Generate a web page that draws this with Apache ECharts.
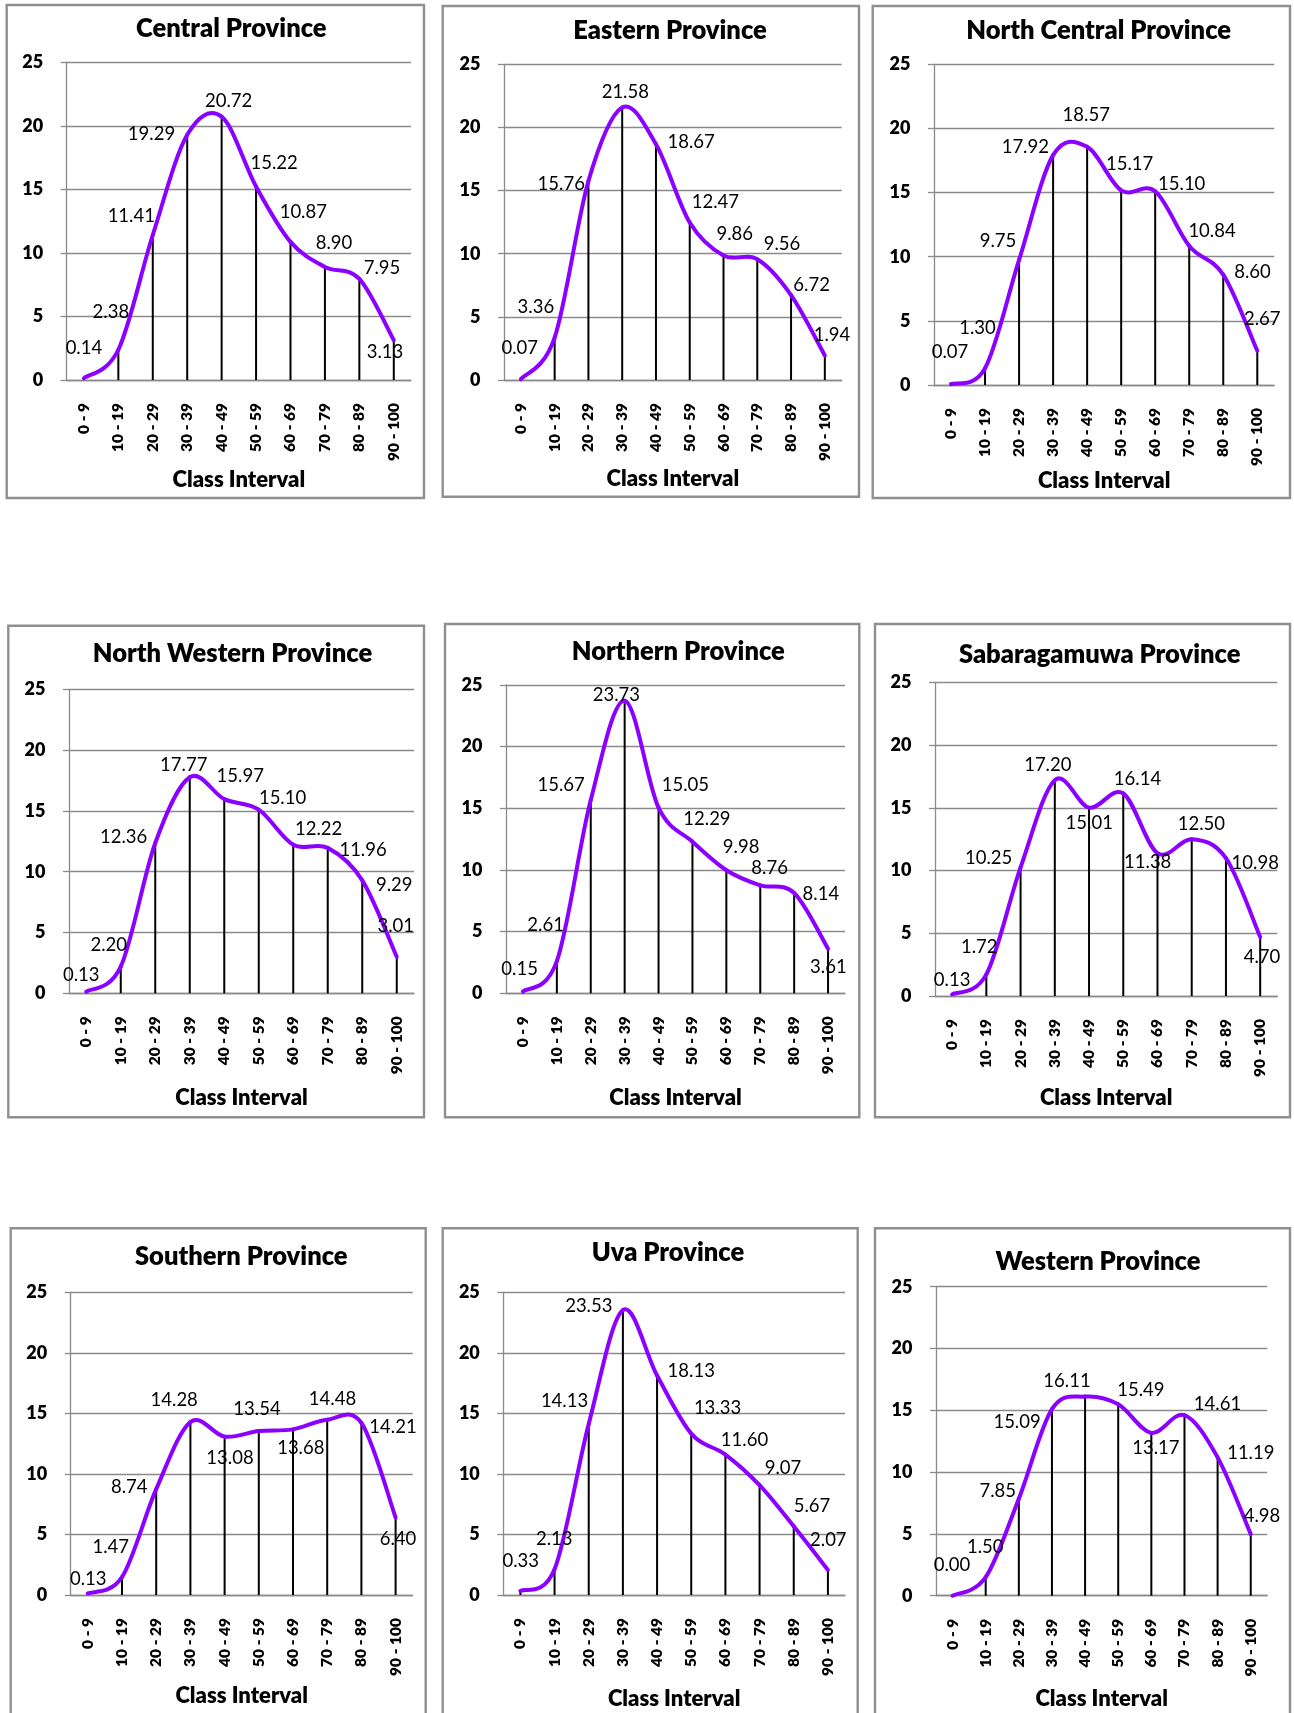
<!DOCTYPE html>
<html>
<head>
<meta charset="utf-8">
<title>Class Interval Distribution by Province</title>
<script src="https://cdn.jsdelivr.net/npm/echarts@6/dist/echarts.min.js"></script>
<style>
  html, body { margin: 0; padding: 0; background: #fff; }
  #chart { width: 1294px; height: 1713px; }
</style>
</head>
<body>
<div id="chart"></div>
<script>
// ---- data ----
const classIntervals = ['0 - 9', '10 - 19', '20 - 29', '30 - 39', '40 - 49',
                        '50 - 59', '60 - 69', '70 - 79', '80 - 89', '90 - 100'];

const provinceNames = ['Central Province', 'Eastern Province', 'North Central Province',
                       'North Western Province', 'Northern Province', 'Sabaragamuwa Province',
                       'Southern Province', 'Uva Province', 'Western Province'];

const central      = [0.14, 2.38, 11.41, 19.29, 20.72, 15.22, 10.87, 8.90, 7.95, 3.13];
const eastern      = [0.07, 3.36, 15.76, 21.58, 18.67, 12.47, 9.86, 9.56, 6.72, 1.94];
const northCentral = [0.07, 1.30, 9.75, 17.92, 18.57, 15.17, 15.10, 10.84, 8.60, 2.67];
const northWestern = [0.13, 2.20, 12.36, 17.77, 15.97, 15.10, 12.22, 11.96, 9.29, 3.01];
const northern     = [0.15, 2.61, 15.67, 23.73, 15.05, 12.29, 9.98, 8.76, 8.14, 3.61];
const sabaragamuwa = [0.13, 1.72, 10.25, 17.20, 15.01, 16.14, 11.38, 12.50, 10.98, 4.70];
const southern     = [0.13, 1.47, 8.74, 14.28, 13.08, 13.54, 13.68, 14.48, 14.21, 6.40];
const uva          = [0.33, 2.13, 14.13, 23.53, 18.13, 13.33, 11.60, 9.07, 5.67, 2.07];
const western      = [0.00, 1.50, 7.85, 15.09, 16.11, 15.49, 13.17, 14.61, 11.19, 4.98];

const yAxisMin = 0, yAxisMax = 25, yAxisStep = 5;
const xAxisTitle = 'Class Interval';

const provinceValues = [central, eastern, northCentral, northWestern, northern,
                        sabaragamuwa, southern, uva, western];

// ---- layout (px) ----
// grid: [left, top, width, height]; frame: [x, y, w, h]; title centre: [x, y]
const panels = [
  { grid: [66.7, 62.3, 344.3, 317.7],   frame: [6.7, 5, 417.3, 493],       title: [231.3, 28.3],   nameGap: 89 },
  { grid: [504, 64.3, 337.7, 315.7],    frame: [442.7, 6, 416.3, 490.7],   title: [670, 30.5],     nameGap: 87.5 },
  { grid: [934, 64.3, 340.3, 320.7],    frame: [872.7, 6, 417.3, 492],     title: [1098.7, 30.5],  nameGap: 83.8 },
  { grid: [69, 689.3, 345, 304],        frame: [8.3, 625.7, 415.7, 491.6], title: [232.5, 653.7],  nameGap: 93.9 },
  { grid: [506, 685, 339, 308.3],       frame: [445, 624, 414.3, 493.3],   title: [678.3, 651.3],  nameGap: 93.9 },
  { grid: [935, 682.3, 342.3, 313.7],   frame: [875, 624, 415, 493.3],     title: [1099.7, 654.7], nameGap: 91.2 },
  { grid: [70.7, 1292.3, 342, 302.7],   frame: [10.7, 1228.3, 415, 600],   title: [241.3, 1256.3], nameGap: 89.8 },
  { grid: [503.3, 1292.3, 341.7, 302.7],frame: [442.7, 1228.3, 415, 600],  title: [668, 1253],     nameGap: 93.2 },
  { grid: [936, 1286.7, 331.3, 309],    frame: [875, 1228.3, 415, 600],    title: [1098, 1261.7],  nameGap: 92.5 }
];

// data-label offsets from each point, [dx, dy] in px
const labelOffsets = [
  [[0,-30],[-7.5,-38],[-21.5,-19],[-35.7,-1],[7,-15.6],[18,-24],[12.8,-30],[9,-24],[22.6,-10.7],[-8.8,11.5]],
  [[-1.2,-30.8],[-18.8,-30.6],[-27.2,2.7],[3.1,-15.7],[35.2,-2.5],[25.6,-20.8],[11.2,-21.2],[24.7,-15.6],[20.6,-10],[7.2,-20.5]],
  [[-1,-31.8],[-7.6,-40],[-21.1,-18.7],[-27.8,-8.1],[-0.9,-31.4],[8.5,-25.9],[26.5,-7.6],[22.8,-15.1],[29.2,-3],[5,-31.7]],
  [[-5,-16.7],[-12,-21.8],[-31.6,-6],[-6,-11.9],[16,-22.8],[23.8,-11.9],[25.4,-15.9],[35.3,1.8],[32,4.4],[-1,-30.4]],
  [[-3.3,-22.8],[-11.2,-35.8],[-29.6,-14.8],[-8.3,-5.7],[26.8,-22.4],[14.5,-23.1],[14.8,-23.3],[9.4,-17.5],[26.7,1.6],[0.3,18.2]],
  [[0,-14.4],[-7.1,-27.7],[-31.9,-9.6],[-7,-14.8],[0.2,15.4],[14.2,-14.7],[-9.8,9.3],[9.6,-14.9],[29.3,4.8],[1.8,20]],
  [[0.5,-14.7],[-11.3,-30.2],[-27,-2.2],[-16.2,-22.4],[5.4,21.2],[-1.8,-22.3],[7.8,18.5],[5.3,-20.4],[31.6,4.1],[2.4,21.7]],
  [[0.3,-30.2],[-0.3,-30.5],[-24.2,-22.7],[-34.1,-3.7],[34.2,-4.2],[26.3,-25.6],[19.1,-15],[23.4,-17.4],[18.2,-20],[0.4,-30.2]],
  [[-0.6,-30.4],[-0.4,-29.7],[-21.1,-7.4],[-34.9,12.5],[-18.1,-15.4],[22.6,-14.5],[4.5,14.9],[33,-11.4],[33.2,-4.4],[11.3,-17.8]]
];

// ---- styles ----
const FONT = 'Lato, "Open Sans", sans-serif';
const HEAVY = 800;
const CURVE = '#8b00ff';
const GRID_GRAY = '#8a8a8a';
const FRAME_GRAY = '#8f8f8f';

// Smoothed curve (Catmull-Rom segments) plus the value label for each point,
// positioned through the axes' own coordinate mapping.
function curveRenderer(values, offsets) {
  const n = values.length;
  return function (params, api) {
    const i = params.dataIndex;
    const pt = (k) => {
      const c = Math.max(0, Math.min(n - 1, k));
      return api.coord([c, values[c]]);
    };
    const p1 = pt(i);
    const children = [];
    if (i < n - 1) {
      const p0 = pt(i - 1), p2 = pt(i + 1), p3 = pt(i + 2);
      children.push({
        type: 'bezierCurve', z2: 1, silent: true,
        shape: {
          x1: p1[0], y1: p1[1], x2: p2[0], y2: p2[1],
          cpx1: p1[0] + (p2[0] - p0[0]) / 6, cpy1: p1[1] + (p2[1] - p0[1]) / 6,
          cpx2: p2[0] - (p3[0] - p1[0]) / 6, cpy2: p2[1] - (p3[1] - p1[1]) / 6
        },
        style: { stroke: CURVE, lineWidth: 4, fill: null, lineCap: 'round' }
      });
    }
    const off = offsets[i];
    children.push({
      type: 'text', z2: 10, silent: true,
      x: p1[0] + off[0], y: p1[1] + off[1],
      style: { text: values[i].toFixed(2), fill: '#000', font: 'normal 18.5px ' + FONT,
               align: 'center', verticalAlign: 'middle' }
    });
    return { type: 'group', children: children };
  };
}

const grids = [], xAxes = [], yAxes = [], series = [], graphics = [];

panels.forEach((p, i) => {
  grids.push({ left: p.grid[0], top: p.grid[1], width: p.grid[2], height: p.grid[3], containLabel: false });

  xAxes.push({
    type: 'category', gridIndex: i, data: classIntervals, boundaryGap: true,
    axisLine: { show: true, lineStyle: { color: GRID_GRAY, width: 1.3 } },
    axisTick: { show: false },
    axisLabel: { rotate: 90, margin: 23, interval: 0, color: '#000',
                 fontFamily: FONT, fontWeight: HEAVY, fontSize: 15.5 },
    name: xAxisTitle, nameLocation: 'middle', nameGap: p.nameGap,
    nameTextStyle: { color: '#000', fontFamily: FONT, fontWeight: HEAVY, fontSize: 22 }
  });

  yAxes.push({
    type: 'value', gridIndex: i, min: yAxisMin, max: yAxisMax, interval: yAxisStep,
    axisLine: { show: true, lineStyle: { color: GRID_GRAY, width: 1.3 } },
    axisTick: { show: true, length: 6, lineStyle: { color: GRID_GRAY, width: 1.3 } },
    splitLine: { show: true, lineStyle: { color: GRID_GRAY, width: 1.3 } },
    axisLabel: { margin: 23.5, color: '#000', fontFamily: FONT, fontWeight: HEAVY, fontSize: 18 }
  });

  const values = provinceValues[i];

  // drop lines from each point down to the axis
  series.push({
    type: 'bar', xAxisIndex: i, yAxisIndex: i, data: values,
    barWidth: 2, itemStyle: { color: '#000' }, silent: true, z: 2
  });

  // distribution curve with value labels
  series.push({
    type: 'custom', coordinateSystem: 'cartesian2d', xAxisIndex: i, yAxisIndex: i,
    data: values.map((v, k) => [k, v]),
    encode: { x: 0, y: 1 },
    renderItem: curveRenderer(values, labelOffsets[i]),
    z: 3, silent: true
  });

  // chart frame
  graphics.push({
    type: 'rect', silent: true, z: 0,
    shape: { x: p.frame[0], y: p.frame[1], width: p.frame[2], height: p.frame[3] },
    style: { fill: null, stroke: FRAME_GRAY, lineWidth: 2.4 }
  });

  // chart title
  graphics.push({
    type: 'text', silent: true, z: 5,
    x: p.title[0], y: p.title[1],
    style: { text: provinceNames[i], fill: '#000', font: HEAVY + ' 25.5px ' + FONT,
             align: 'center', verticalAlign: 'middle' }
  });
});

const chart = echarts.init(document.getElementById('chart'), null, { renderer: 'canvas' });
chart.setOption({
  animation: false,
  backgroundColor: '#fff',
  grid: grids,
  xAxis: xAxes,
  yAxis: yAxes,
  series: series,
  graphic: { elements: graphics }
});
</script>
</body>
</html>
